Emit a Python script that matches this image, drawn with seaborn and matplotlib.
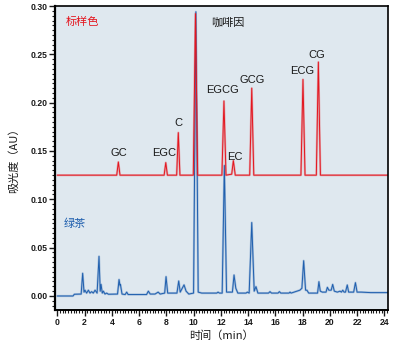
import numpy as np
import pandas as pd
import matplotlib
matplotlib.use("Agg")
import matplotlib.pyplot as plt
from matplotlib.ticker import MultipleLocator, FormatStrFormatter
import seaborn as sns

# ---- data ----
red_time = [0, 4.36, 4.48, 4.60, 7.84, 7.96, 8.08, 8.76, 8.88, 9.00,
            9.98, 10.14, 10.30, 12.08, 12.23, 12.38, 12.80, 12.92, 13.06,
            14.12, 14.27, 14.42, 17.88, 18.03, 18.18, 19.01, 19.16, 19.31, 24.3]
red_abs = [0.125, 0.125, 0.1386, 0.125, 0.125, 0.138, 0.125, 0.125, 0.169, 0.125,
           0.125, 0.292, 0.125, 0.125, 0.2017, 0.125, 0.126, 0.140, 0.125,
           0.125, 0.215, 0.125, 0.125, 0.224, 0.125, 0.125, 0.242, 0.125, 0.125]

blue_time = [0, 1.15, 1.25, 1.75, 1.86, 1.96, 2.03, 2.15, 2.28, 2.40, 2.52, 2.64,
             2.77, 2.92, 3.06, 3.15, 3.21, 3.30, 3.38, 3.50, 3.62, 3.75, 4.42,
             4.53, 4.60, 4.63, 4.75, 4.98, 5.09, 5.20, 6.55, 6.68, 6.82, 7.17,
             7.40, 7.55, 7.88, 7.98, 8.10, 8.78, 8.91, 9.02, 9.30, 9.45, 9.65,
             10.00, 10.17, 10.34, 10.60, 11.70, 11.80, 11.90, 12.10, 12.26, 12.42,
             12.85, 12.97, 13.10, 13.25, 13.85, 13.95, 14.08, 14.27, 14.45, 14.58,
             14.72, 15.50, 15.61, 15.72, 16.20, 16.30, 16.40, 17.00, 17.08, 17.16,
             17.80, 17.95, 18.08, 18.22, 18.32, 18.45, 19.10, 19.20, 19.30, 19.45,
             19.72, 19.82, 19.93, 20.10, 20.21, 20.33, 20.55, 20.75, 20.85, 20.95,
             21.05, 21.15, 21.28, 21.38, 21.75, 21.88, 22.00, 22.30, 23.00, 24.30]
blue_abs = [0.0, 0.0, 0.0018, 0.002, 0.0235, 0.004, 0.006, 0.003, 0.006, 0.003, 0.0045, 0.003,
            0.006, 0.003, 0.041, 0.005, 0.012, 0.003, 0.005, 0.002, 0.003, 0.0018, 0.002,
            0.017, 0.011, 0.012, 0.002, 0.0015, 0.004, 0.0015, 0.0015, 0.005, 0.002, 0.002,
            0.004, 0.002, 0.003, 0.020, 0.003, 0.003, 0.0155, 0.004, 0.0115, 0.005, 0.002,
            0.003, 0.294, 0.004, 0.003, 0.003, 0.004, 0.003, 0.003, 0.135, 0.004,
            0.004, 0.0217, 0.008, 0.003, 0.003, 0.004, 0.003, 0.076, 0.005, 0.0097,
            0.003, 0.003, 0.0045, 0.003, 0.003, 0.0045, 0.003, 0.003, 0.004, 0.003,
            0.006, 0.008, 0.0365, 0.006, 0.006, 0.003, 0.003, 0.0148, 0.005, 0.004,
            0.004, 0.009, 0.006, 0.006, 0.012, 0.005, 0.004, 0.005, 0.004, 0.006,
            0.004, 0.004, 0.0114, 0.004, 0.004, 0.0138, 0.004, 0.004, 0.0035, 0.0035]

peak_names = ["GC", "EGC", "C", "EGCG", "EC", "GCG", "ECG", "CG"]
peak_label_x = [4.55, 7.83, 8.88, 12.10, 13.00, 14.27, 18.00, 19.07]
peak_label_y = [0.1425, 0.1425, 0.174, 0.208, 0.1385, 0.218, 0.2276, 0.244]

x_ticks = list(range(0, 25, 2))
y_ticks = [0.00, 0.05, 0.10, 0.15, 0.20, 0.25, 0.30]

red_df = pd.DataFrame({"time": red_time, "abs": red_abs})
blue_df = pd.DataFrame({"time": blue_time, "abs": blue_abs})

# ---- style ----
sns.set_theme(style="ticks")
plt.rcParams["font.family"] = ["Liberation Sans", "Noto Sans CJK SC", "DejaVu Sans"]
CJK = ["Noto Sans CJK SC", "DejaVu Sans"]

RED = "#e4161f"
BLUE = "#1f5fae"
BG = "#dfe8ef"
TXT = "#1a1a1a"

fig = plt.figure(figsize=(4.0, 3.47), dpi=100)
ax = fig.add_axes([0.1375, 0.1066, 0.8325, 0.8761])
ax.set_facecolor(BG)

for df, col in [(blue_df, BLUE), (red_df, RED)]:
    sns.lineplot(data=df, x="time", y="abs", ax=ax, color=col, lw=1.6, alpha=0.3,
                 sort=False, estimator=None, legend=False)
    sns.lineplot(data=df, x="time", y="abs", ax=ax, color=col, lw=0.7, alpha=1.0,
                 sort=False, estimator=None, legend=False)

ax.set_xlim(-0.17, 24.27)
ax.set_ylim(-0.0145, 0.30)
ax.set_xticks(x_ticks)
ax.set_yticks(y_ticks)
ax.xaxis.set_minor_locator(MultipleLocator(0.2))
ax.yaxis.set_minor_locator(MultipleLocator(0.005))
ax.yaxis.set_major_formatter(FormatStrFormatter("%.2f"))

ax.tick_params(axis="both", which="major", direction="out", length=4.0, width=1.0,
               color=TXT, labelsize=6.2, labelcolor=TXT, pad=1.5)
ax.tick_params(axis="both", which="minor", direction="out", length=2.2, width=0.8, color=TXT)
for lab in ax.get_xticklabels() + ax.get_yticklabels():
    lab.set_fontweight("bold")

for side in ["left", "right", "top", "bottom"]:
    ax.spines[side].set_visible(True)
    ax.spines[side].set_color("black")
    ax.spines[side].set_linewidth(1.2)
ax.spines["left"].set_linewidth(1.6)
ax.spines["bottom"].set_linewidth(1.4)

ax.set_xlabel("时间（min）", family=CJK, fontsize=8, color=TXT, labelpad=3)
ax.set_ylabel("吸光度（AU）", family=CJK, fontsize=8, color=TXT, labelpad=8)

for name, lx, ly in zip(peak_names, peak_label_x, peak_label_y):
    ax.text(lx, ly, name, ha="center", va="bottom", fontsize=8, color=TXT)

ax.text(0.64, 0.283, "标样色", family=CJK, fontsize=8, color=RED, ha="left", va="center")
ax.text(11.28, 0.283, "咖啡因", family=CJK, fontsize=8, color=TXT, ha="left", va="center")
ax.text(0.49, 0.0745, "绿茶", family=CJK, fontsize=8, color=BLUE, ha="left", va="center")

fig.savefig("out.png", dpi=100, facecolor="white")
